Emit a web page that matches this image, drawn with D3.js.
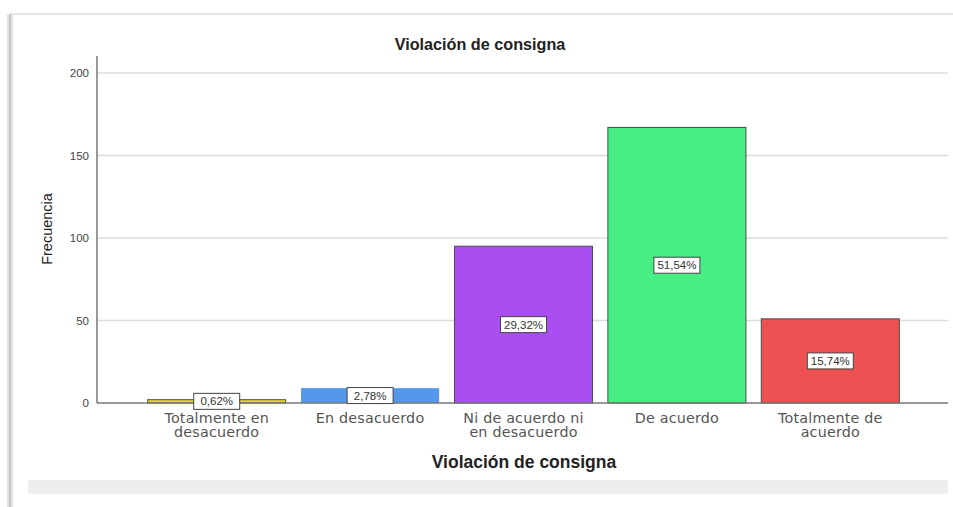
<!DOCTYPE html>
<html>
<head>
<meta charset="utf-8">
<script src="https://cdn.jsdelivr.net/npm/d3@7"></script>
<style>
  body { margin: 0; background: #fff; }
  text { font-family: "Liberation Sans", Arial, sans-serif; }
</style>
</head>
<body>
<div id="chart"></div>
<script>
// Data
const categories = [
    ["Totalmente en", "desacuerdo"],
    ["En desacuerdo"],
    ["Ni de acuerdo ni", "en desacuerdo"],
    ["De acuerdo"],
    ["Totalmente de", "acuerdo"]
]
const frequencies = [2, 9, 95, 167, 51]
const percentLabels = ["0,62%", "2,78%", "29,32%", "51,54%", "15,74%"]
const barColors = ["#e8d920", "#5597e8", "#a94ff2", "#47ee83", "#ee5151"]
const yTicks = [0, 50, 100, 150, 200]

const width = 953
const height = 507

const svg = d3.select("#chart")
    .append("svg")
    .attr("width", width)
    .attr("height", height)

// frame / shadow
svg.append("line")
    .attr("x1", 10).attr("x2", width)
    .attr("y1", 14).attr("y2", 14)
    .attr("stroke", "#e6e6e6").attr("stroke-width", 2)
svg.append("rect")
    .attr("x", 7).attr("y", 14)
    .attr("width", 6).attr("height", height - 14)
    .attr("fill", "#e4e4e4")
svg.append("line")
    .attr("x1", 10).attr("x2", 10)
    .attr("y1", 14).attr("y2", height)
    .attr("stroke", "#bdbdbd").attr("stroke-width", 1.5)
svg.append("rect")
    .attr("x", 28).attr("y", 480)
    .attr("width", 920).attr("height", 14)
    .attr("fill", "#eeeeee")

// Scales
const x = d3.scaleBand()
    .domain(d3.range(categories.length))
    .range([140, 907])
    .paddingInner(0.1)
    .paddingOuter(0.05)

const y = d3.scaleLinear()
    .domain([0, 200])
    .range([403, 73])

const axisLeftX = 97
const axisRightX = 948

// gridlines
svg.append("g")
    .selectAll("line")
    .data(yTicks.filter(d => d > 0))
    .join("line")
    .attr("x1", axisLeftX).attr("x2", axisRightX)
    .attr("y1", d => y(d)).attr("y2", d => y(d))
    .attr("stroke", "#dcdcdc").attr("stroke-width", 1.5)

// y axis
const yAxis = svg.append("g")
    .attr("transform", `translate(${axisLeftX},0)`)
    .call(d3.axisLeft(y).tickValues(yTicks).tickSize(0).tickPadding(8))
yAxis.select(".domain").remove()
yAxis.selectAll("text")
    .attr("font-size", 11.5)
    .attr("fill", "#444")
    .style("font-family", "'Liberation Sans', Arial, sans-serif")
svg.append("line")
    .attr("x1", axisLeftX).attr("x2", axisLeftX)
    .attr("y1", 56).attr("y2", y(0))
    .attr("stroke", "#777").attr("stroke-width", 1.5)

// bars
const bars = svg.append("g")
    .selectAll("rect")
    .data(frequencies)
    .join("rect")
    .attr("x", (d, i) => x(i))
    .attr("y", d => y(d))
    .attr("width", x.bandwidth())
    .attr("height", d => y(0) - y(d))
    .attr("fill", (d, i) => barColors[i])
    .attr("stroke", (d, i) => i == 1 ? "none" : "#4a4a4a")
    .attr("stroke-width", 1)

// x axis line
svg.append("line")
    .attr("x1", axisLeftX).attr("x2", axisRightX)
    .attr("y1", y(0)).attr("y2", y(0))
    .attr("stroke", "#777").attr("stroke-width", 1.5)

// percentage labels
const labels = svg.append("g")
    .selectAll("g")
    .data(frequencies)
    .join("g")
    .attr("transform", (d, i) => `translate(${x(i) + x.bandwidth() / 2}, ${(y(d) + y(0)) / 2})`)
labels.append("rect")
    .attr("x", -23).attr("y", -8)
    .attr("width", 46).attr("height", 16)
    .attr("fill", "#fff")
    .attr("stroke", "#444").attr("stroke-width", 1)
labels.append("text")
    .attr("text-anchor", "middle")
    .attr("dy", "0.35em")
    .attr("font-size", 11.5)
    .attr("fill", "#333")
    .text((d, i) => percentLabels[i])

// category labels
const catLabels = svg.append("g")
    .selectAll("text")
    .data(categories)
    .join("text")
    .attr("x", (d, i) => x(i) + x.bandwidth() / 2)
    .attr("y", 422.5)
    .attr("text-anchor", "middle")
    .attr("font-size", 14.3)
    .attr("letter-spacing", 0.2)
    .attr("fill", "#555")
    .style("font-family", "'DejaVu Sans', sans-serif")
catLabels.selectAll("tspan")
    .data(d => d)
    .join("tspan")
    .attr("x", function() { return this.parentNode.getAttribute("x") })
    .attr("dy", (d, i) => i == 0 ? 0 : 14.5)
    .text(d => d)

// titles
svg.append("text")
    .attr("x", 480)
    .attr("y", 50)
    .attr("text-anchor", "middle")
    .attr("font-size", 16.2)
    .attr("font-weight", "bold")
    .attr("fill", "#222")
    .text("Violación de consigna")

svg.append("text")
    .attr("x", 524)
    .attr("y", 468)
    .attr("text-anchor", "middle")
    .attr("font-size", 17.5)
    .attr("font-weight", "bold")
    .attr("fill", "#222")
    .text("Violación de consigna")

svg.append("text")
    .attr("transform", "translate(52, 229) rotate(-90)")
    .attr("text-anchor", "middle")
    .attr("font-size", 14.5)
    .attr("fill", "#222")
    .text("Frecuencia")
</script>
</body>
</html>
